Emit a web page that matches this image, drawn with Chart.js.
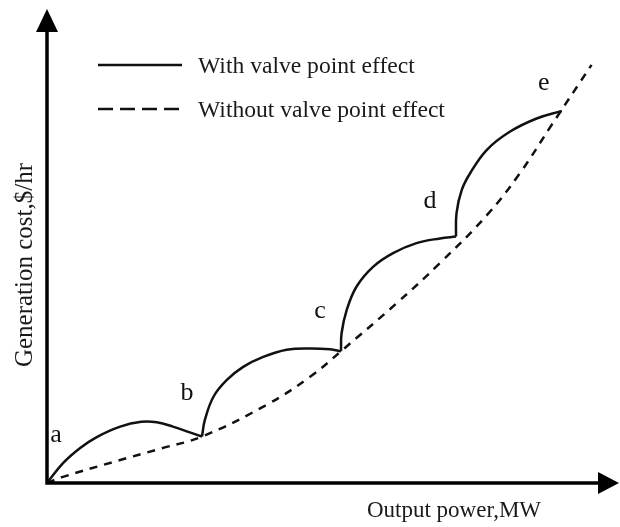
<!DOCTYPE html>
<html>
<head>
<meta charset="utf-8">
<title>Valve point effect</title>
<script src="https://cdn.jsdelivr.net/npm/chart.js@4"></script>
<style>
  html, body { margin: 0; padding: 0; background: #fff; }
  canvas { display: block; }
</style>
</head>
<body>
<canvas id="chart" width="620" height="527"></canvas>
<script>
// Cost curve with valve point effect, one arc per valve (a-b, b-c, c-d, d-e)
const arc1X = [0, 2.8, 5.8, 8.7, 12.8, 16.5, 19.2, 22.0, 27.1];
const arc1Y = [0, 4.2, 7.4, 9.7, 11.9, 12.9, 12.8, 11.9, 9.8];
const arc2X = [27.1, 27.6, 29.1, 31.4, 34.3, 37.8, 41.9, 46.0, 49.5, 51.4];
const arc2Y = [9.8, 13.3, 18.2, 21.7, 24.5, 26.6, 28.1, 28.4, 28.2, 27.8];
const arc3X = [51.4, 51.5, 52.4, 54.1, 57.0, 60.5, 64.6, 68.7, 71.5];
const arc3Y = [27.8, 31.6, 36.5, 41.4, 45.6, 48.5, 50.6, 51.6, 52.0];
const arc4X = [71.5, 71.6, 72.5, 74.0, 76.9, 80.9, 85.6, 90.0];
const arc4Y = [52.0, 57.0, 61.8, 65.4, 70.3, 74.1, 76.9, 78.5];

// Cost curve without valve point effect
const smoothX = [0, 2.8, 11.5, 20.0, 27.1, 38.4, 46.0, 51.4, 61.1, 68.7, 76.9, 82.7, 88.2, 95.2];
const smoothY = [0, 1.3, 4.4, 7.3, 9.8, 16.5, 22.4, 27.8, 37.9, 46.4, 56.5, 65.4, 75.5, 88.2];

// Valve points and their letters
const valveX = [0, 27.1, 51.4, 71.5, 90.0];
const valveY = [0, 9.8, 27.8, 52.0, 78.5];
const valveLabels = ["a", "b", "c", "d", "e"];

const seriesNames = ["With valve point effect", "Without valve point effect"];
const xTitle = "Output power,MW";
const yTitle = "Generation cost,$/hr";

const FONT = "'Liberation Serif', 'Times New Roman', serif";
const INK = "#111";

function toPoints(xs, ys) {
    return xs.map((x, i) => ({ x: x, y: ys[i] }));
}

function arcDataset(xs, ys) {
    return {
        label: seriesNames[0],
        data: toPoints(xs, ys),
        borderColor: INK,
        borderWidth: 2.5,
        pointRadius: 0,
        tension: 0.4,
        clip: false
    };
}

// Draws arrows, titles, letters and the legend
const decorations = {
    id: "decorations",
    afterDraw(chart) {
        const ctx = chart.ctx;
        const area = chart.chartArea;
        const xs = chart.scales.x;
        const ys = chart.scales.y;
        const ox = xs.getPixelForValue(0);
        const oy = ys.getPixelForValue(0);

        ctx.save();
        ctx.fillStyle = "#000";
        ctx.strokeStyle = "#000";
        ctx.lineWidth = 3.5;

        // axes
        ctx.beginPath();
        ctx.moveTo(ox, area.top + 20);
        ctx.lineTo(ox, oy);
        ctx.lineTo(area.right - 20, oy);
        ctx.stroke();

        // arrow heads
        ctx.beginPath();
        ctx.moveTo(ox, area.top);
        ctx.lineTo(ox - 11, area.top + 23);
        ctx.lineTo(ox + 11, area.top + 23);
        ctx.closePath();
        ctx.fill();
        ctx.beginPath();
        ctx.moveTo(area.right, oy);
        ctx.lineTo(area.right - 21, oy - 11);
        ctx.lineTo(area.right - 21, oy + 11);
        ctx.closePath();
        ctx.fill();

        // axis titles
        ctx.fillStyle = "#1a1a1a";
        ctx.font = "23px " + FONT;
        ctx.textAlign = "center";
        ctx.textBaseline = "alphabetic";
        ctx.fillText(xTitle, 454, 517);
        ctx.save();
        ctx.translate(32, 265);
        ctx.rotate(-Math.PI / 2);
        ctx.font = "25px " + FONT;
        ctx.fillText(yTitle, 0, 0);
        ctx.restore();

        // letters at the valve points
        const offsets = [[9, -48], [-15, -43], [-21, -40], [-26, -35], [-18, -28]];
        ctx.fillStyle = INK;
        ctx.font = "26px " + FONT;
        ctx.textBaseline = "middle";
        valveLabels.forEach((t, i) => {
            const px = xs.getPixelForValue(valveX[i]) + offsets[i][0];
            const py = ys.getPixelForValue(valveY[i]) + offsets[i][1];
            ctx.fillText(t, px, py);
        });

        // legend
        const rows = [{ y: 65, dash: [] }, { y: 109, dash: [15, 7] }];
        ctx.font = "23.6px " + FONT;
        ctx.textAlign = "left";
        ctx.textBaseline = "alphabetic";
        rows.forEach((r, i) => {
            ctx.beginPath();
            ctx.setLineDash(r.dash);
            ctx.lineWidth = 2.5;
            ctx.strokeStyle = INK;
            ctx.moveTo(98, r.y);
            ctx.lineTo(182, r.y);
            ctx.stroke();
            ctx.setLineDash([]);
            ctx.fillStyle = "#1a1a1a";
            ctx.fillText(seriesNames[i], 198, r.y + 8);
        });
        ctx.restore();
    }
};

new Chart(document.getElementById("chart"), {
    type: "line",
    data: {
        datasets: [
            arcDataset(arc1X, arc1Y),
            arcDataset(arc2X, arc2Y),
            arcDataset(arc3X, arc3Y),
            arcDataset(arc4X, arc4Y),
            {
                label: seriesNames[1],
                data: toPoints(smoothX, smoothY),
                borderColor: INK,
                borderWidth: 2.5,
                borderDash: [8, 7],
                pointRadius: 0,
                tension: 0.4,
                clip: false
            }
        ]
    },
    options: {
        responsive: false,
        animation: false,
        layout: { padding: { left: 47, right: 1, top: 9, bottom: 44 } },
        plugins: {
            legend: { display: false },
            tooltip: { enabled: false }
        },
        scales: {
            x: { type: "linear", display: false, min: 0, max: 100 },
            y: { type: "linear", display: false, min: 0, max: 100 }
        }
    },
    plugins: [decorations]
});
</script>
</body>
</html>
